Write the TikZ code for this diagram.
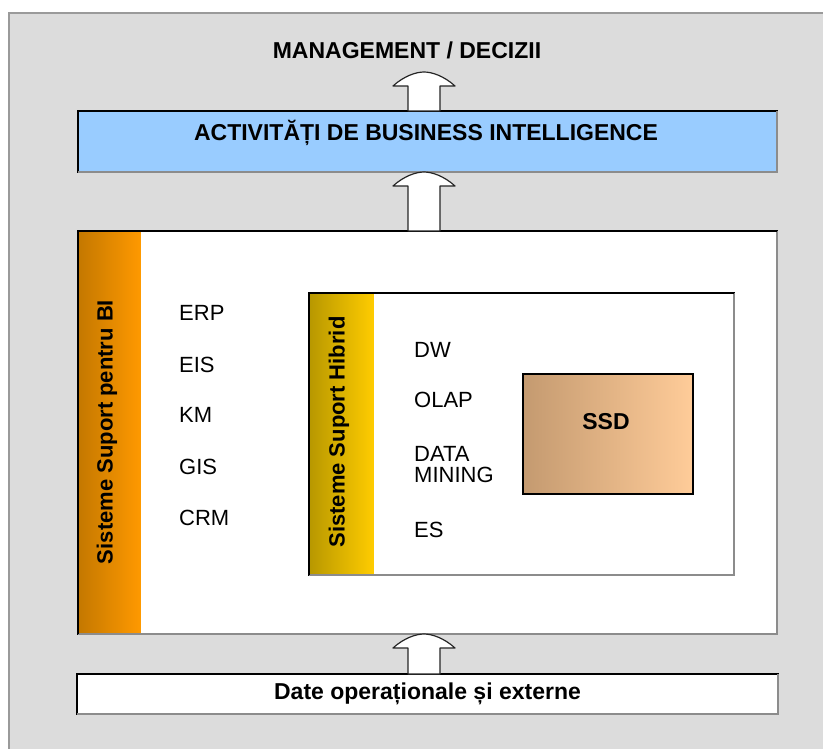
\documentclass[tikz,border=0pt]{standalone}
\usepackage{fontspec}
\setmainfont{Liberation Sans}
\usetikzlibrary{calc}

\definecolor{panelgray}{HTML}{DCDCDC}
\definecolor{panelline}{HTML}{9A9A9A}
\definecolor{bizblue}{HTML}{99CCFF}
\definecolor{orangedark}{HTML}{C47800}
\definecolor{orangelight}{HTML}{FF9900}
\definecolor{golddark}{HTML}{B89800}
\definecolor{goldlight}{HTML}{FFCC00}
\definecolor{tandark}{HTML}{C49A70}
\definecolor{tanlight}{HTML}{FFCC99}
\definecolor{shadowgray}{HTML}{8C8C8C}

\tikzset{
  box/.style={draw=black, line width=1.5pt, inner sep=0pt, outer sep=0pt, rectangle},
  band/.style={inner sep=0pt, outer sep=0pt, rectangle},
  headline/.style={font=\fontsize{23}{27}\selectfont\bfseries, inner sep=0pt},
  bandtext/.style={font=\fontsize{22}{26}\selectfont\bfseries, rotate=90, inner sep=0pt},
  item/.style={font=\fontsize{22}{24}\selectfont, anchor=west, inner sep=0pt, align=left},
  bigarrow/.style={fill=white, draw=black!85, line width=1.2pt, line join=round},
}

% lower/right edges of a box in grey
\newcommand\softedge[1]{%
  \draw[shadowgray, line width=1.5pt] (#1.north east) -- (#1.south east) -- (#1.south west);}

% hollow block arrow pointing up from #1 to #2
\newcommand\hollowup[2]{%
  \path[bigarrow] let \p1=(#1), \p2=(#2) in
    (\x1-16pt,\y1) -- (\x1-16pt,\y2-14pt) -- (\x1-31pt,\y2-14pt)
    .. controls (\x1-20pt,\y2-4pt) and (\x1-8pt,\y2) .. (\x1,\y2)
    .. controls (\x1+8pt,\y2) and (\x1+20pt,\y2-4pt) .. (\x1+31pt,\y2-14pt)
    -- (\x1+16pt,\y2-14pt) -- (\x1+16pt,\y1) -- cycle;}

\begin{document}
\begin{tikzpicture}[x=1pt, y=-1pt]
  \useasboundingbox (0,0) rectangle (823,749);
  \fill[white] (0,0) rectangle (823,749);

  % grey panel
  \fill[panelgray] (9,13) rectangle (823,749);
  \draw[panelline, line width=2pt] (823,13) -- (9,13) -- (9,749);

  \coordinate (axis) at (424,0);
  \coordinate (toptip) at (424,72);

  % title
  \node[headline] (mgmt) at (407,50) {MANAGEMENT / DECIZII};

  % business intelligence activities
  \node[box, fill=bizblue, minimum width=699pt, minimum height=61pt] (biz) at (427.5,141.5) {};
  \softedge{biz}
  \node[headline] (biztext) at (426,133) {ACTIVITĂȚI DE BUSINESS INTELLIGENCE};

  % support systems for BI
  \node[box, fill=white, minimum width=699pt, minimum height=403pt] (main) at (427.5,432.5) {};
  \node[band, shade, left color=orangedark, right color=orangelight,
        minimum width=62pt, minimum height=401.5pt] (biband) at (109.75,432.5) {};
  \softedge{main}
  \draw[black, line width=1.5pt] (main.south west) -- (main.north west) -- (main.north east);
  \node[bandtext] (bitext) at (107,432) {Sisteme Suport pentru BI};

  \node[item] (erp) at (179,313) {ERP};
  \node[item] (eis) at (179,365) {EIS};
  \node[item] (km)  at (179,415) {KM};
  \node[item] (gis) at (179,467) {GIS};
  \node[item] (crm) at (179,518) {CRM};

  % hybrid support systems
  \node[box, fill=white, minimum width=425pt, minimum height=282pt] (hyb) at (521.5,434) {};
  \node[band, shade, left color=golddark, right color=goldlight,
        minimum width=64pt, minimum height=280.5pt] (hybband) at (341.75,434) {};
  \softedge{hyb}
  \draw[black, line width=1.5pt] (hyb.south west) -- (hyb.north west) -- (hyb.north east);
  \node[bandtext] (hybtext) at (339,432) {Sisteme Suport Hibrid};

  \node[item] (dw)   at (414,350) {DW};
  \node[item] (olap) at (414,400) {OLAP};
  \node[item, text depth=0pt] (dm) at (414,464.5) {DATA\\[-3pt]MINING};
  \node[item] (es)   at (414,530) {ES};

  \node[box, shade, left color=tandark, right color=tanlight,
        minimum width=170pt, minimum height=120pt] (ssd) at (608,434) {};
  \node[headline] (ssdtext) at (606,422) {SSD};

  % operational and external data
  \node[box, fill=white, minimum width=701pt, minimum height=40pt,
        font=\fontsize{23}{27}\selectfont\bfseries] (data) at (427.5,694) {Date operaționale și externe};
  \softedge{data}

  % flow arrows
  \hollowup{axis |- data.north}{axis |- main.south}
  \hollowup{axis |- main.north}{axis |- biz.south}
  \hollowup{axis |- biz.north}{toptip}
\end{tikzpicture}
\end{document}
